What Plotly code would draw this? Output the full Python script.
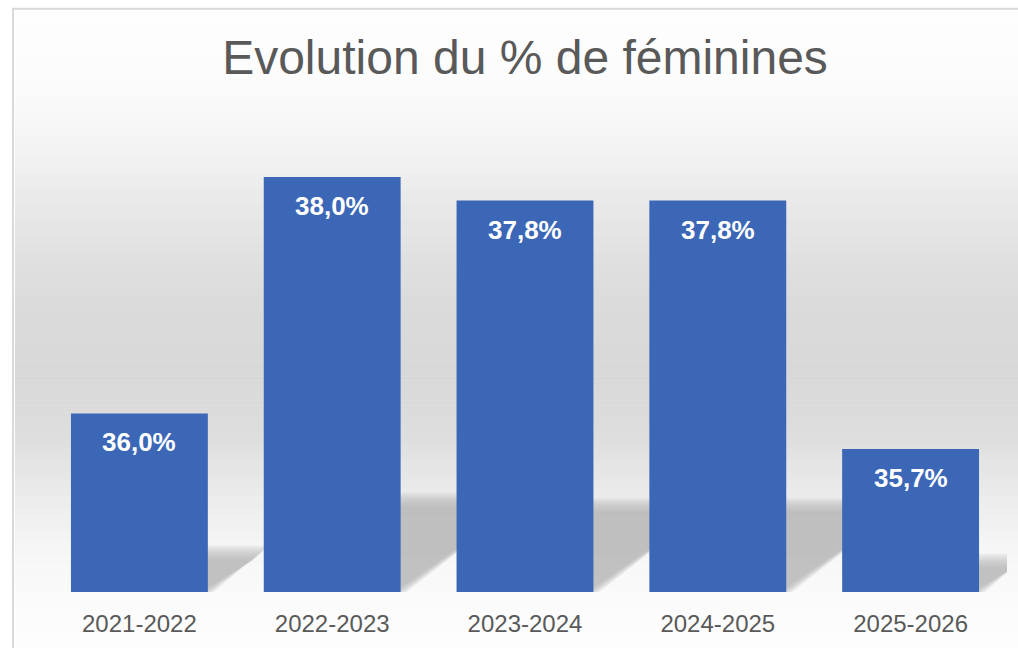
import plotly.graph_objects as go
import numpy as np

categories = ["2021-2022", "2022-2023", "2023-2024", "2024-2025", "2025-2026"]
values = [36.0, 38.0, 37.8, 37.8, 35.7]
labels = ["36,0%", "38,0%", "37,8%", "37,8%", "35,7%"]

W, H = 1018, 648
L, R, T, B = 43, 11, 110, 53
PW, PH = W - L - R, H - T - B
YMIN = 34.49
YMAX = YMIN + PH / 119.0

def px2x(px):
    return (px - L) / PW

def py2y(py):
    return (H - B - py) / PH

fig = go.Figure()

fig.add_trace(go.Bar(
    x=categories, y=values,
    marker=dict(color="#3C67B7", line=dict(width=0)),
    hoverinfo="skip",
))

shapes = []
# background gradient (styling)
stops_py = [10, 90, 150, 220, 300, 380, 440, 500, 560, 620, 648]
stops_g = [254, 251, 243, 230, 219, 216, 222, 236, 247, 252, 253]
step = 4
for py in range(10, H, step):
    g = int(round(np.interp(py + step / 2, stops_py, stops_g)))
    shapes.append(dict(type="rect", xref="paper", yref="paper", layer="below",
                       x0=px2x(15), x1=px2x(W + 5), y0=py2y(py + step + 0.5), y1=py2y(py),
                       fillcolor=f"rgb({g},{g},{g})", line=dict(width=0)))

# soft shadows cast by bars (derived from data values)
bw = 0.71
ppu = 119.0  # px per y unit
cat_px = PW / len(categories)
for i, v in enumerate(values):
    h_px = (v - YMIN) * ppu
    sh_px = 0.225 * h_px
    dx_px = 1.35 * sh_px
    sh = sh_px / ppu
    dx = dx_px / cat_px
    for grow in [6, 4, 2, 0, -2, -4, -6, -8]:
        g_y = grow / ppu
        g_x = grow / cat_px
        x0 = i - bw / 2
        x1 = i + bw / 2
        path = (f"M {x0},{YMIN} L {x1 + g_x},{YMIN} "
                f"L {x1 + dx + g_x},{YMIN + sh + g_y} L {x0 + dx},{YMIN + sh + g_y} Z")
        shapes.append(dict(type="path", xref="x", yref="y", layer="below",
                           path=path, fillcolor="rgba(175,175,175,0.17)", line=dict(width=0)))

# chart border (left and top)
shapes.append(dict(type="line", xref="paper", yref="paper", x0=px2x(13), x1=px2x(13),
                   y0=py2y(8), y1=py2y(H + 5), line=dict(color="#d9d9d9", width=2)))
shapes.append(dict(type="line", xref="paper", yref="paper", x0=px2x(12), x1=px2x(W + 5),
                   y0=py2y(8), y1=py2y(8), line=dict(color="#d9d9d9", width=2)))

annotations = []
for c, v, t in zip(categories, values, labels):
    annotations.append(dict(x=c, y=v, xref="x", yref="y", text=f"<b>{t}</b>",
                            showarrow=False, yanchor="top", yshift=-12,
                            font=dict(family="Liberation Sans, Arial", size=26, color="white")))

fig.update_layout(
    width=W, height=H,
    margin=dict(l=L, r=R, t=T, b=B, pad=0),
    paper_bgcolor="white",
    plot_bgcolor="rgba(0,0,0,0)",
    bargap=0.29,
    showlegend=False,
    title=dict(text="Evolution du % de féminines", x=px2x(525), xref="paper", xanchor="center",
               y=1 - 57 / H, yref="container", yanchor="middle",
               font=dict(family="Liberation Sans, Arial", size=48, color="#595959")),
    xaxis=dict(range=[-0.5, len(categories) - 0.5], autorange=False,
               showgrid=False, zeroline=False, showline=False, ticks="outside", ticklen=10,
               tickcolor="rgba(0,0,0,0)",
               tickfont=dict(family="Liberation Sans, Arial", size=24, color="#595959")),
    yaxis=dict(range=[YMIN, YMAX], visible=False, showgrid=False, zeroline=False),
    shapes=shapes,
    annotations=annotations,
)

fig.write_html("out.html", config={"displayModeBar": False},
               post_script="document.body.style.margin='0';document.body.style.overflow='hidden';")
